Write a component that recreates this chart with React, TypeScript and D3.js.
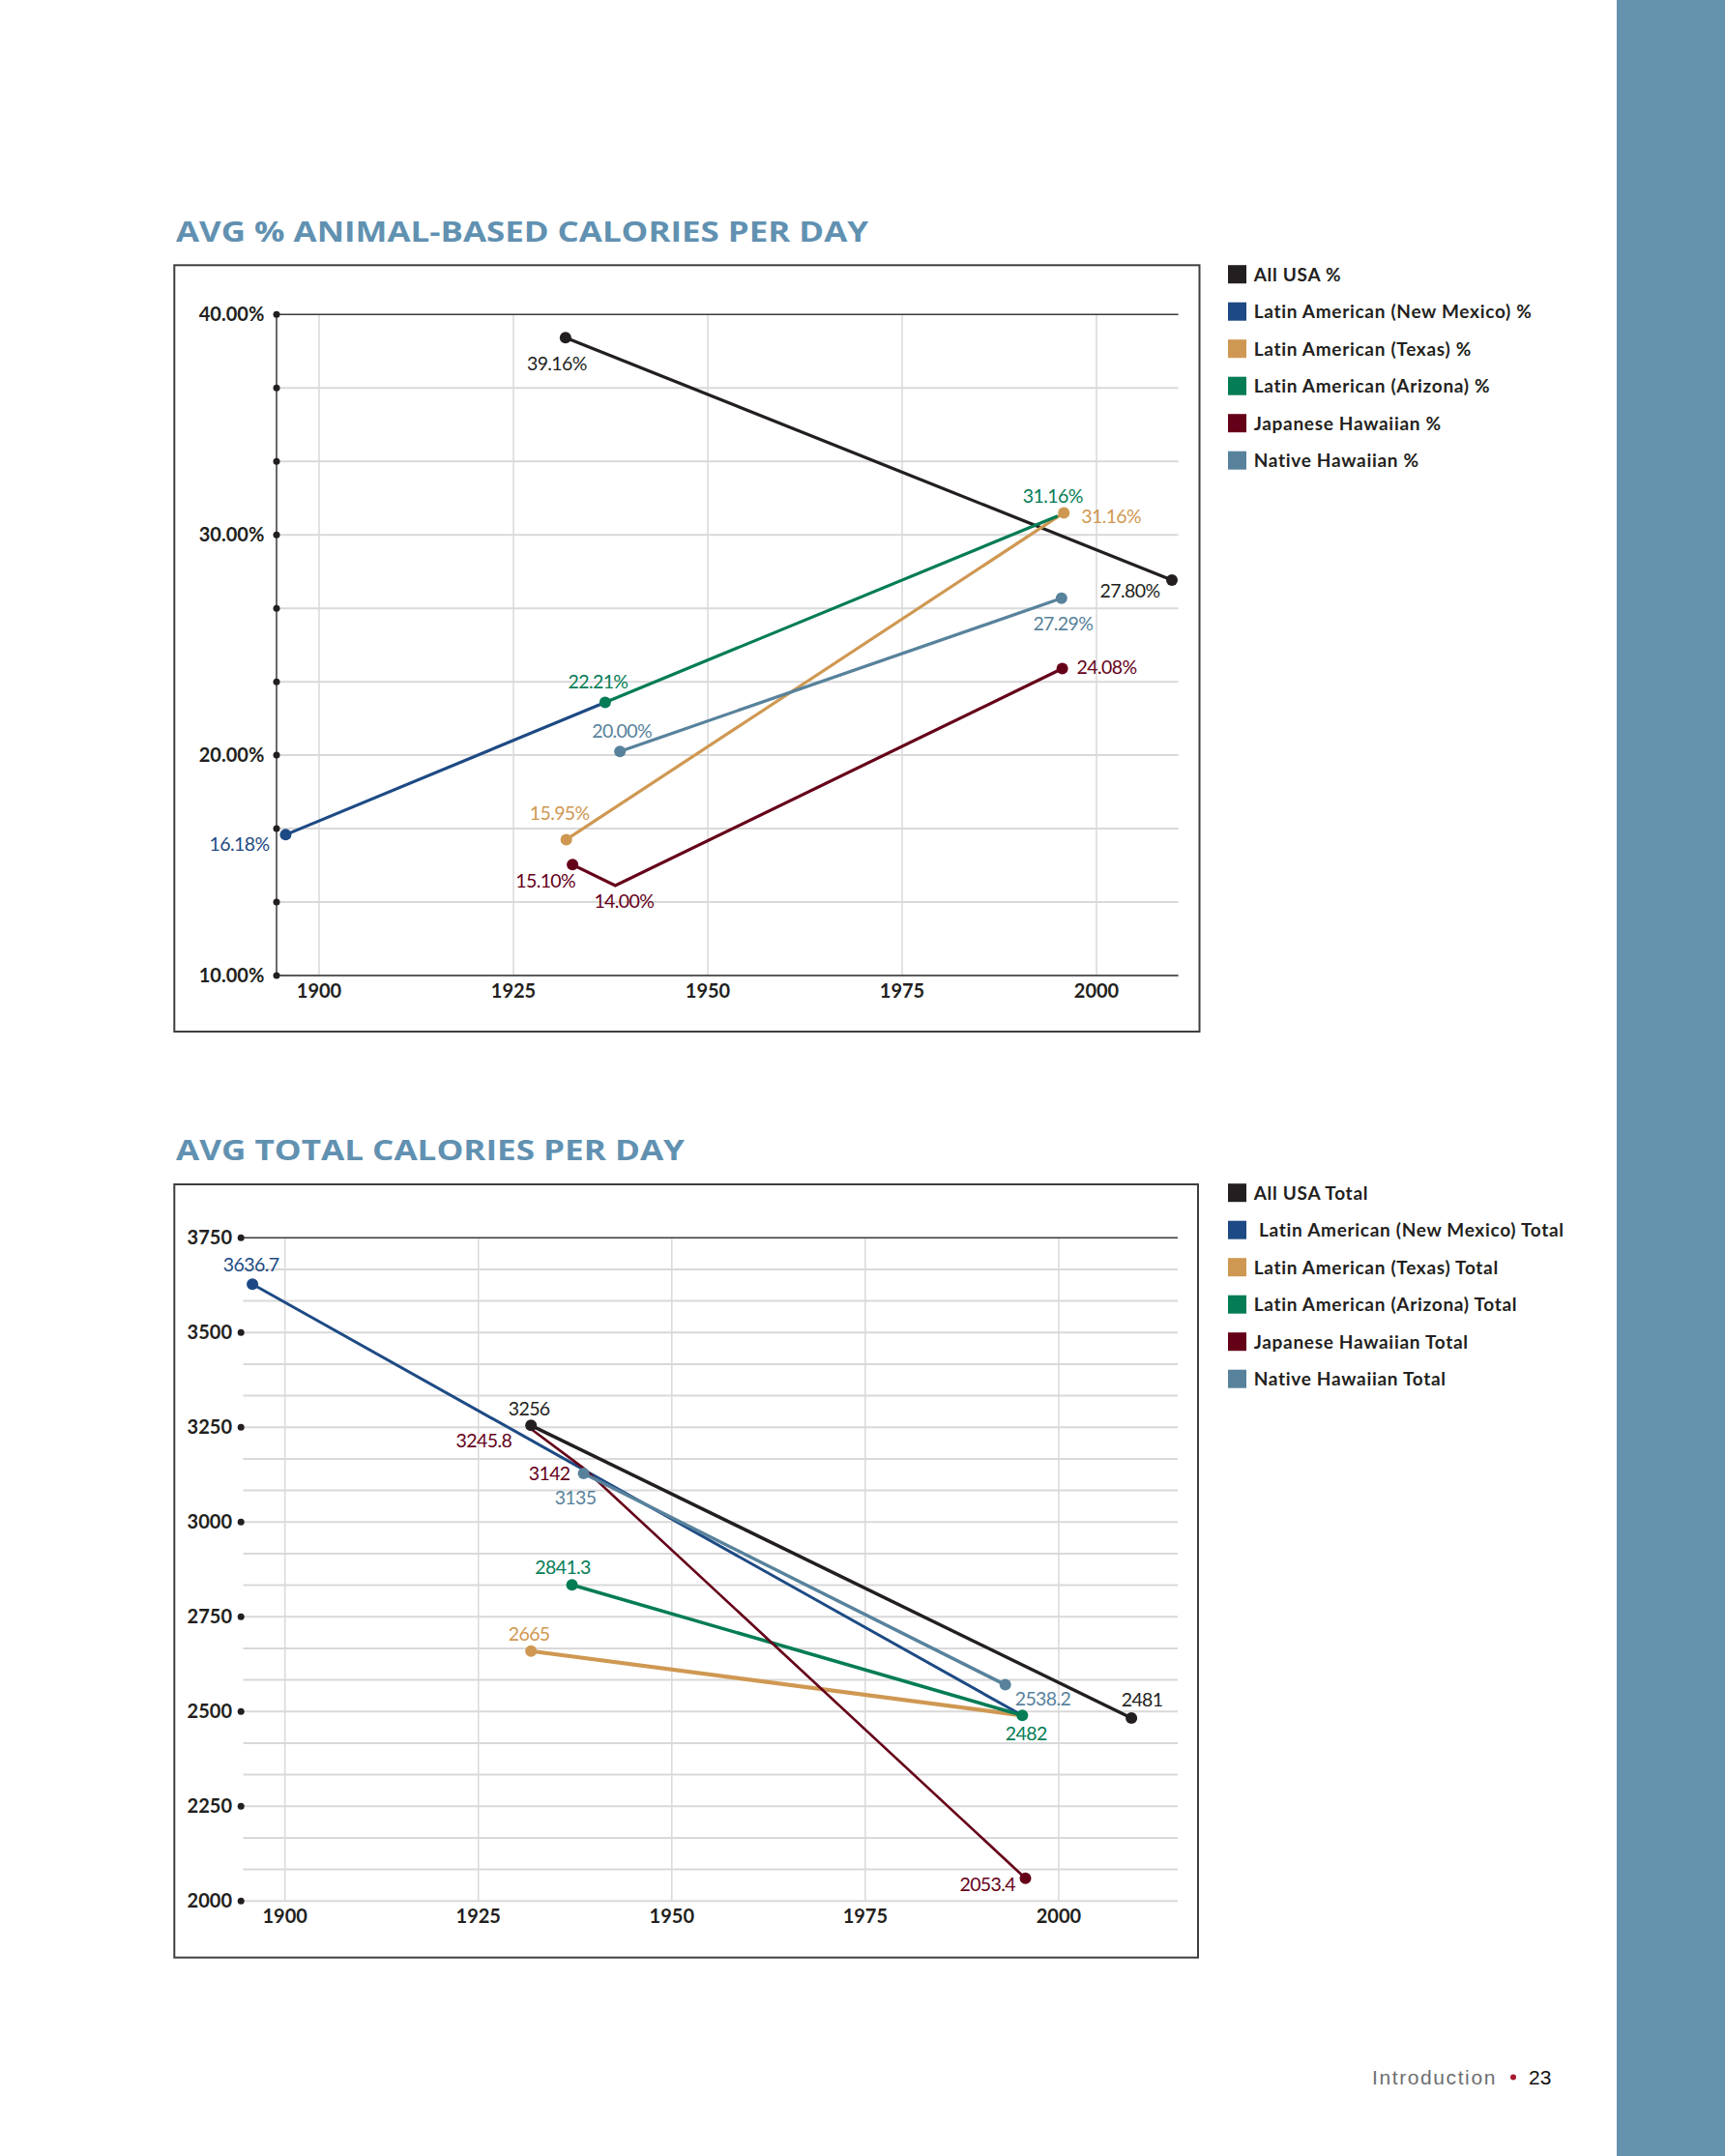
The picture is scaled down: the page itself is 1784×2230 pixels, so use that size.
import React from 'react';
import * as d3 from 'd3';

// ---------- data ----------
const seriesColors = ['#231f20', '#1d4a84', '#cf9852', '#047c55', '#650019', '#58829c'];

const pctLegend = [
  'All USA %',
  'Latin American (New Mexico) %',
  'Latin American (Texas) %',
  'Latin American (Arizona) %',
  'Japanese Hawaiian %',
  'Native Hawaiian %',
];
const totalLegend = [
  'All USA Total',
  ' Latin American (New Mexico) Total',
  'Latin American (Texas) Total',
  'Latin American (Arizona) Total',
  'Japanese Hawaiian Total',
  'Native Hawaiian Total',
];

const pctYears = [
  [1931.7, 2009.7],
  [1895.7, 1936.8],
  [1931.8, 1995.8],
  [1936.8, 1995.0],
  [1932.6, 1938.1, 1995.6],
  [1938.7, 1995.5],
];
const pctValues = [
  [38.95, 27.95],
  [16.39, 22.4],
  [16.17, 31.0],
  [22.4, 30.85],
  [15.03, 14.08, 23.93],
  [20.17, 27.12],
];
const pctLabels = [
  ['39.16%', '27.80%'],
  ['16.18%', ''],
  ['15.95%', '31.16%'],
  ['22.21%', '31.16%'],
  ['15.10%', '14.00%', '24.08%'],
  ['20.00%', '27.29%'],
];
const pctDots = [
  [true, true],
  [true, false],
  [true, true],
  [true, false],
  [true, false, true],
  [true, true],
];

const totalYears = [
  [1931.8, 2009.4],
  [1895.8, 1995.3],
  [1931.8, 1995.3],
  [1937.1, 1995.3],
  [1931.8, 1938.6, 1995.7],
  [1938.6, 1993.1],
];
const totalValues = [
  [3255, 2482.7],
  [3627.6, 2489.6],
  [2659.3, 2489.6],
  [2834.3, 2489.6],
  [3245.8, 3142, 2060],
  [3128.3, 2570.5],
];
const totalLabels = [
  ['3256', '2481'],
  ['3636.7', ''],
  ['2665', ''],
  ['2841.3', '2482'],
  ['3245.8', '3142', '2053.4'],
  ['3135', '2538.2'],
];
const totalDots = [
  [true, true],
  [true, false],
  [true, false],
  [true, true],
  [false, false, true],
  [true, true],
];

const yearTicks = [1900, 1925, 1950, 1975, 2000];
const pctTickLabels = [10, 20, 30, 40];
const totalTickLabels = [2000, 2250, 2500, 2750, 3000, 3250, 3500, 3750];

// ---------- layout (positions / styles) ----------
type LL = { dx: number; dy: number; a: 'start' | 'middle' | 'end' } | null;
const pctLabelLayout: LL[][] = [
  [{ dx: -9, dy: 34, a: 'middle' }, { dx: -12.5, dy: 18, a: 'end' }],
  [{ dx: -17, dy: 17, a: 'end' }, null],
  [{ dx: -7, dy: -20, a: 'middle' }, { dx: 18, dy: 11, a: 'start' }],
  [{ dx: -7.4, dy: -14.6, a: 'middle' }, { dx: -5, dy: -14, a: 'middle' }],
  [{ dx: 3, dy: 24, a: 'end' }, { dx: 9, dy: 23, a: 'middle' }, { dx: 15, dy: 5, a: 'start' }],
  [{ dx: 2, dy: -14, a: 'middle' }, { dx: 1.5, dy: 33, a: 'middle' }],
];
const totalLabelLayout: LL[][] = [
  [{ dx: -2, dy: -10, a: 'middle' }, { dx: 11, dy: -12, a: 'middle' }],
  [{ dx: -1.5, dy: -13, a: 'middle' }, null],
  [{ dx: -2, dy: -11, a: 'middle' }, null],
  [{ dx: -9.5, dy: -11.5, a: 'middle' }, { dx: 4, dy: 26, a: 'middle' }],
  [{ dx: -20, dy: 19, a: 'end' }, { dx: -14, dy: 12, a: 'end' }, { dx: -10.5, dy: 13, a: 'end' }],
  [{ dx: -8.5, dy: 32, a: 'middle' }, { dx: 10, dy: 21, a: 'start' }],
];
const totalLineWidths = [3.5, 3, 4.2, 3.5, 2.6, 3.5];

const TITLE_COLOR = '#6191b1';
const SIDEBAR = '#6593ae';
const GRID = '#d9d9d9';
const TEXT = '#231f20';
const LABEL_FONT = 'Lato, "Open Sans", sans-serif';

interface ChartCfg {
  title: string;
  titleY: number;
  titleLen: number;
  box: [number, number, number, number];
  xRange: [number, number];
  yDomain: [number, number];
  yRange: [number, number];
  gridStep: number;
  plotLeft: number;
  plotRight: number;
  axisX: number;
  tickLabels: number[];
  dotsAtAllGrid: boolean;
  fmt: (v: number) => string;
  labelRight: number;
  years: number[][];
  values: number[][];
  labels: string[][];
  dots: boolean[][];
  layout: LL[][];
  widths: number[];
  legend: string[];
  legendY: number;
  drawAxisLine: boolean;
}

function Chart({ c }: { c: ChartCfg }) {
  const x = d3.scaleLinear().domain([1900, 2000]).range(c.xRange);
  const y = d3.scaleLinear().domain(c.yDomain).range(c.yRange);
  const [y0, y1] = c.yDomain;
  const grid = d3.range(y0, y1 + 1e-6, c.gridStep);
  const line = d3
    .line<[number, number]>()
    .x((d) => x(d[0]))
    .y((d) => y(d[1]));
  const yTop = y(y1);
  const yBot = y(y0);
  return (
    <g>
      <text
        x={182}
        y={c.titleY}
        fontFamily='"Open Sans", Lato, sans-serif'
        fontWeight={700}
        fontSize={29}
        fill={TITLE_COLOR}
        textLength={c.titleLen}
        lengthAdjust="spacingAndGlyphs"
      >
        {c.title}
      </text>
      <rect
        x={c.box[0]}
        y={c.box[1]}
        width={c.box[2] - c.box[0]}
        height={c.box[3] - c.box[1]}
        fill="white"
        stroke="#3f3f3f"
        strokeWidth={2}
      />
      {/* vertical grid */}
      {yearTicks.map((t) => (
        <line key={'vg' + t} x1={x(t)} x2={x(t)} y1={yTop} y2={yBot} stroke={GRID} strokeWidth={1.5} />
      ))}
      {/* horizontal grid */}
      {grid.map((g, i) => {
        const isTop = i === grid.length - 1;
        const isBottom = i === 0;
        let stroke = GRID;
        let w = 2;
        let x1 = c.plotLeft;
        if (isTop) {
          stroke = '#3a3a3a';
          w = 1.6;
          x1 = c.axisX;
        } else if (isBottom && c.drawAxisLine) {
          stroke = '#5a5a5a';
          w = 2;
          x1 = c.axisX;
        }
        return <line key={'hg' + i} x1={x1} x2={c.plotRight} y1={y(g)} y2={y(g)} stroke={stroke} strokeWidth={w} />;
      })}
      {c.drawAxisLine && (
        <line x1={c.axisX} x2={c.axisX} y1={yTop} y2={yBot} stroke="#444" strokeWidth={1.6} />
      )}
      {/* tick dots */}
      {(c.dotsAtAllGrid ? grid : c.tickLabels).map((g, i) => (
        <circle key={'td' + i} cx={c.axisX} cy={y(g)} r={3.5} fill={TEXT} />
      ))}
      {c.tickLabels.map((t) => (
        <text
          key={'tl' + t}
          x={c.labelRight}
          y={y(t) + 7}
          textAnchor="end"
          fontFamily={LABEL_FONT}
          fontWeight={700}
          fontSize={20}
          fill={TEXT}
        >
          {c.fmt(t)}
        </text>
      ))}
      {yearTicks.map((t) => (
        <text
          key={'xl' + t}
          x={x(t)}
          y={yBot + 22.7}
          textAnchor="middle"
          fontFamily={LABEL_FONT}
          fontWeight={700}
          fontSize={20}
          fill={TEXT}
        >
          {t}
        </text>
      ))}
      {/* lines */}
      {c.years.map((ys, s) => (
        <path
          key={'ln' + s}
          d={line(ys.map((yr, i) => [yr, c.values[s][i]] as [number, number])) || ''}
          fill="none"
          stroke={seriesColors[s]}
          strokeWidth={c.widths[s]}
          strokeLinejoin="miter"
        />
      ))}
      {/* dots */}
      {c.years.map((ys, s) =>
        ys.map((yr, i) =>
          c.dots[s][i] ? (
            <circle key={'dt' + s + '_' + i} cx={x(yr)} cy={y(c.values[s][i])} r={6} fill={seriesColors[s]} />
          ) : null
        )
      )}
      {/* value labels */}
      {c.years.map((ys, s) =>
        ys.map((yr, i) => {
          const L = c.layout[s][i];
          const txt = c.labels[s][i];
          if (!L || !txt) return null;
          return (
            <text
              key={'vl' + s + '_' + i}
              x={x(yr) + L.dx}
              y={y(c.values[s][i]) + L.dy}
              textAnchor={L.a}
              fontFamily={LABEL_FONT}
              fontSize={19.5}
              letterSpacing={-0.6}
              fill={seriesColors[s]}
            >
              {txt}
            </text>
          );
        })
      )}
      {/* legend */}
      {c.legend.map((name, i) => {
        const cy = c.legendY + i * 38.5;
        return (
          <g key={'lg' + i}>
            <rect x={1270} y={cy - 9.5} width={19} height={19} fill={seriesColors[i]} />
            <text
              x={1296.7}
              y={cy + 7}
              fontFamily={LABEL_FONT}
              fontWeight={700}
              fontSize={19}
              letterSpacing={0.7}
              fill={TEXT}
              style={{ whiteSpace: 'pre' }}
            >
              {name}
            </text>
          </g>
        );
      })}
    </g>
  );
}

export default function App() {
  const pctFmt = (v: number) => d3.format('.2f')(v) + '%';
  const top: ChartCfg = {
    title: 'AVG % ANIMAL-BASED CALORIES PER DAY',
    titleY: 250,
    titleLen: 716,
    box: [180.3, 274.3, 1240.5, 1067],
    xRange: [330, 1134],
    yDomain: [10, 40],
    yRange: [1009, 325.3],
    gridStep: 10 / 3,
    plotLeft: 286,
    plotRight: 1218.6,
    axisX: 286,
    tickLabels: pctTickLabels,
    dotsAtAllGrid: true,
    fmt: pctFmt,
    labelRight: 273.3,
    years: pctYears,
    values: pctValues,
    labels: pctLabels,
    dots: pctDots,
    layout: pctLabelLayout,
    widths: [3.2, 3.2, 3.2, 3.2, 3.2, 3.2],
    legend: pctLegend,
    legendY: 283.7,
    drawAxisLine: true,
  };
  const bottom: ChartCfg = {
    title: 'AVG TOTAL CALORIES PER DAY',
    titleY: 1199.5,
    titleLen: 526,
    box: [180.3, 1225, 1239, 2024.7],
    xRange: [294.7, 1094.9],
    yDomain: [2000, 3750],
    yRange: [1966.2, 1280.3],
    gridStep: 250 / 3,
    plotLeft: 251.5,
    plotRight: 1218,
    axisX: 249.2,
    tickLabels: totalTickLabels,
    dotsAtAllGrid: false,
    fmt: (v: number) => String(v),
    labelRight: 240,
    years: totalYears,
    values: totalValues,
    labels: totalLabels,
    dots: totalDots,
    layout: totalLabelLayout,
    widths: totalLineWidths,
    legend: totalLegend,
    legendY: 1233.7,
    drawAxisLine: false,
  };
  return (
    <svg
      width={1784}
      height={2230}
      viewBox="0 0 1784 2230"
      style={{ position: 'absolute', left: 0, top: 0, display: 'block', background: 'white' }}
    >
      <rect x={0} y={0} width={1784} height={2230} fill="white" />
      <rect x={1672} y={0} width={112} height={2230} fill={SIDEBAR} />
      <Chart c={top} />
      <Chart c={bottom} />
      <text
        x={1419}
        y={2156}
        fontFamily='"Liberation Sans", Arial, sans-serif'
        fontSize={21}
        letterSpacing={1.6}
        fill="#6d6e71"
      >
        Introduction
      </text>
      <circle cx={1565} cy={2148.5} r={3} fill="#a6192e" />
      <text x={1581} y={2156} fontFamily='"Liberation Sans", Arial, sans-serif' fontSize={21} fill="#111">
        23
      </text>
    </svg>
  );
}
